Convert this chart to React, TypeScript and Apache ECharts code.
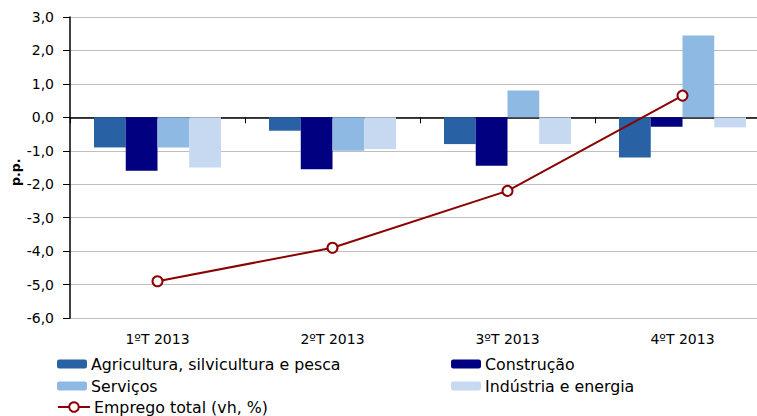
import React, { useEffect, useRef } from "react";
import * as echarts from "echarts";

const categories = ["1ºT 2013", "2ºT 2013", "3ºT 2013", "4ºT 2013"];
const agricultura = [-0.9, -0.4, -0.8, -1.2];
const construcao = [-1.6, -1.55, -1.45, -0.28];
const servicos = [-0.9, -1.0, 0.8, 2.45];
const industria = [-1.5, -0.95, -0.8, -0.3];
const empregoTotal = [-4.9, -3.9, -2.2, 0.65];

const names = [
  "Agricultura, silvicultura e pesca",
  "Construção",
  "Serviços",
  "Indústria e energia",
  "Emprego total (vh, %)",
];

const FONT = "'DejaVu Sans', Verdana, sans-serif";

export default function App() {
  const ref = useRef<HTMLDivElement>(null);
  useEffect(() => {
    if (!ref.current) return;
    const chart = echarts.init(ref.current, null, { renderer: "svg" });
    const legendBase = (name: string, left: number, top: number, line = false) => ({
      data: [name],
      left,
      top,
      orient: "horizontal",
      padding: 0,
      itemWidth: line ? 32 : 30,
      itemHeight: line ? 12 : 9,
      itemGap: 0,
      selectedMode: false,
      textStyle: { fontFamily: FONT, fontSize: 15.8, color: "#000", padding: [0, 0, 0, -1] },
    });
    chart.setOption({
      animation: false,
      backgroundColor: "#fff",
      grid: { left: 70, top: 17, width: 700, height: 301, containLabel: false },
      legend: [
        legendBase(names[0], 57, 356),
        legendBase(names[1], 451, 356),
        legendBase(names[2], 57, 378),
        legendBase(names[3], 451, 378),
        legendBase(names[4], 57, 399, true),
      ],
      xAxis: [
        {
          type: "category",
          data: categories,
          position: "bottom",
          axisLine: { show: false, onZero: false },
          axisTick: { show: false },
          axisLabel: { fontFamily: FONT, fontSize: 14, color: "#000", margin: 14 },
        },
        {
          type: "category",
          data: categories,
          position: "bottom",
          axisLine: { show: true, onZero: true, lineStyle: { color: "#000", width: 1.5 } },
          axisTick: { show: true, length: 6, lineStyle: { color: "#000", width: 1 } },
          axisLabel: { show: false },
        },
      ],
      yAxis: {
        type: "value",
        min: -6,
        max: 3,
        interval: 1,
        axisLine: { show: true, lineStyle: { color: "#000", width: 1.5 } },
        axisTick: { show: true, length: 7, lineStyle: { color: "#000" } },
        axisLabel: {
          fontFamily: FONT,
          fontSize: 14,
          color: "#000",
          margin: 16,
          formatter: (v: number) => v.toFixed(1).replace(".", ","),
        },
        splitLine: { show: true, lineStyle: { color: "#BFBFBF", width: 1 } },
      },
      graphic: [
        {
          type: "text",
          x: 9,
          y: 186,
          rotation: Math.PI / 2,
          style: { text: "p.p.", font: `bold 12.5px ${FONT}`, fill: "#000" },
        },
      ],
      series: [
        { name: names[0], type: "bar", data: agricultura, barWidth: 31.75, barGap: "0%", itemStyle: { color: "#2862A4" } },
        { name: names[1], type: "bar", data: construcao, barWidth: 31.75, barGap: "0%", itemStyle: { color: "#000080" } },
        { name: names[2], type: "bar", data: servicos, barWidth: 31.75, barGap: "0%", itemStyle: { color: "#8DB9E2" } },
        { name: names[3], type: "bar", data: industria, barWidth: 31.75, barGap: "0%", itemStyle: { color: "#C6D9F1" } },
        {
          name: names[4],
          type: "line",
          data: empregoTotal,
          z: 10,
          symbol: "emptyCircle",
          symbolSize: 10,
          lineStyle: { color: "#8B0000", width: 2 },
          itemStyle: { color: "#8B0000", borderColor: "#8B0000", borderWidth: 2 },
        },
      ],
    });
    return () => chart.dispose();
  }, []);
  return (
    <div style={{ position: "absolute", left: 0, top: 0, width: 757, height: 416, overflow: "hidden" }}>
      <div ref={ref} style={{ width: 780, height: 416 }} />
    </div>
  );
}
